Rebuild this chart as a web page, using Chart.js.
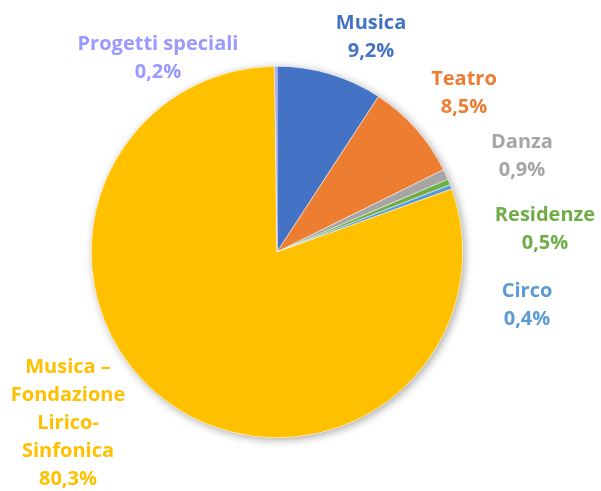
<!DOCTYPE html>
<html>
<head>
<meta charset="utf-8">
<script src="https://cdn.jsdelivr.net/npm/chart.js@4.4.1/dist/chart.umd.min.js"></script>
<style>
  html, body { margin: 0; padding: 0; background: #fff; }
  #wrap { width: 601px; height: 491px; position: relative; }
</style>
</head>
<body>
<div id="wrap"><canvas id="pieChart"></canvas></div>
<script>
// データ (時計回り、12時の位置から)
const categories = ['Musica', 'Teatro', 'Danza', 'Residenze', 'Circo', 'Musica – Fondazione Lirico-Sinfonica', 'Progetti speciali'];
const values = [9.2, 8.5, 0.9, 0.5, 0.4, 80.3, 0.2];
const valueLabels = ['9,2%', '8,5%', '0,9%', '0,5%', '0,4%', '80,3%', '0,2%'];
const labelLines = [['Musica'], ['Teatro'], ['Danza'], ['Residenze'], ['Circo'], ['Musica –', 'Fondazione', 'Lirico-', 'Sinfonica'], ['Progetti speciali']];
const colors = ['#4472C4', '#ED7D31', '#A5A5A5', '#70AD47', '#5B9BD5', '#FFC000', '#9999FF'];

// ラベルの配置 (中心x, 1行目のy)
const labelPos = [[371, 23], [464, 79], [522, 142], [545, 215], [527, 291], [68, 367], [158, 44]];

// 円の影
const shadowPlugin = {
    id: 'pieShadow',
    beforeDatasetsDraw(chart) {
        const arc = chart.getDatasetMeta(0).data[0];
        if (!arc) return;
        const ctx = chart.ctx;
        ctx.save();
        ctx.shadowColor = 'rgba(0,0,0,0.35)';
        ctx.shadowBlur = 9;
        ctx.shadowOffsetX = 2;
        ctx.shadowOffsetY = 2;
        ctx.fillStyle = '#ffffff';
        ctx.beginPath();
        ctx.arc(arc.x, arc.y, arc.outerRadius, 0, Math.PI * 2);
        ctx.fill();
        ctx.restore();
    }
};

// 外側のラベル
const outerLabelPlugin = {
    id: 'outerLabels',
    afterDraw(chart) {
        const ctx = chart.ctx;
        ctx.save();
        ctx.font = 'bold 20px "Open Sans", sans-serif';
        ctx.textAlign = 'center';
        ctx.textBaseline = 'middle';
        const lineH = 28;
        labelPos.forEach((p, i) => {
            ctx.fillStyle = colors[i];
            const lines = labelLines[i].concat([valueLabels[i]]);
            lines.forEach((t, k) => {
                ctx.fillText(t, p[0], p[1] + k * lineH);
            });
        });
        ctx.restore();
    }
};

new Chart(document.getElementById('pieChart').getContext('2d'), {
    type: 'pie',
    data: {
        labels: categories,
        datasets: [{
            data: values,
            backgroundColor: colors,
            borderColor: '#ffffff',
            borderWidth: 0.5
        }]
    },
    options: {
        responsive: true,
        maintainAspectRatio: false,
        animation: false,
        layout: { padding: { left: 91, right: 138, top: 66, bottom: 53 } },
        plugins: {
            legend: { display: false },
            tooltip: { enabled: false }
        }
    },
    plugins: [shadowPlugin, outerLabelPlugin]
});
</script>
</body>
</html>
